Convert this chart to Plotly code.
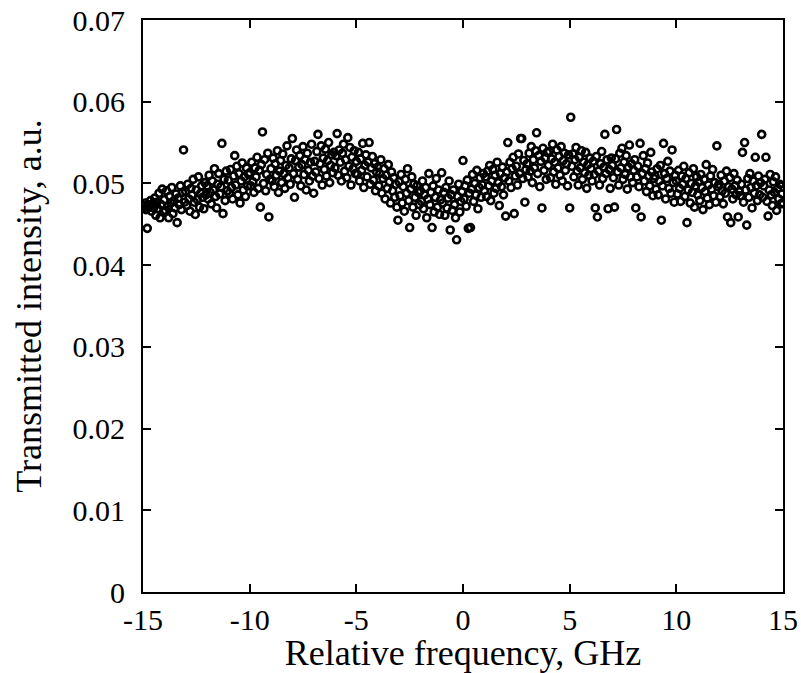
import numpy as np
import plotly.graph_objects as go

# Frequency sweep (GHz): evenly spaced scan from -15 to 15
freq_start = -15.0
freq_stop = 15.0

# Transmitted intensity, in units of 1e-4 a.u.
# (one row per 1 GHz, 20 readings per row, 0.05 GHz apart)
intensity_e4 = [
    473, 470, 476, 468, 445, 474, 471, 479, 466, 475, 470, 482, 461, 477, 469, 488, 458, 474, 493, 465,
    480, 467, 491, 472, 458, 484, 476, 495, 463, 479, 470, 487, 452, 482, 474, 497, 468, 489, 541, 477,
    490, 473, 499, 481, 466, 494, 486, 505, 477, 462, 492, 480, 508, 471, 488, 497, 483, 469, 501, 486,
    497, 481, 510, 489, 475, 503, 492, 518, 484, 470, 499, 512, 487, 496, 549, 463, 505, 479, 515, 491,
    504, 488, 517, 495, 481, 509, 534, 498, 521, 486, 512, 476, 503, 525, 492, 508, 484, 519, 497, 511,
    513, 497, 526, 502, 489, 519, 508, 532, 494, 516, 471, 523, 563, 500, 529, 491, 511, 537, 459, 505,
    518, 503, 531, 496, 524, 510, 540, 489, 515, 528, 501, 536, 512, 494, 522, 546, 507, 519, 499, 530,
    555, 512, 483, 528, 541, 505, 520, 534, 497, 523, 545, 511, 529, 492, 537, 516, 503, 526, 548, 509,
    488, 527, 514, 539, 560, 506, 524, 546, 498, 531, 517, 542, 509, 528, 550, 501, 522, 535, 513, 538,
    519, 534, 561, 510, 541, 526, 503, 537, 548, 515, 529, 507, 556, 521, 544, 498, 532, 518, 540, 512,
    527, 511, 538, 503, 530, 516, 549, 495, 522, 535, 508, 526, 550, 499, 519, 533, 504, 524, 491, 514,
    520, 497, 512, 529, 488, 506, 518, 481, 510, 494, 523, 502, 476, 514, 491, 507, 483, 499, 471, 455,
    502, 485, 511, 476, 496, 466, 505, 488, 518, 479, 446, 493, 508, 471, 499, 483, 461, 497, 489, 474,
    491, 478, 503, 469, 486, 495, 458, 481, 512, 474, 489, 446, 497, 465, 483, 506, 471, 492, 462, 480,
    513, 476, 489, 461, 495, 470, 482, 503, 443, 486, 467, 492, 474, 458, 431, 484, 499, 465, 478, 490,
    528, 481, 497, 472, 504, 445, 488, 446, 493, 511, 478, 500, 486, 516, 469, 495, 507, 483, 498, 512,
    491, 508, 484, 515, 497, 522, 479, 503, 517, 488, 510, 494, 526, 501, 473, 512, 496, 520, 486, 507,
    460, 514, 550, 503, 526, 495, 518, 532, 463, 509, 521, 498, 536, 512, 555, 555, 506, 528, 477, 517,
    524, 508, 537, 515, 545, 501, 529, 519, 540, 562, 512, 534, 496, 527, 470, 543, 516, 531, 505, 538,
    522, 539, 507, 530, 548, 514, 526, 499, 541, 519, 533, 510, 545, 503, 528, 537, 516, 524, 497, 535,
    470, 581, 521, 536, 508, 529, 544, 515, 498, 532, 519, 540, 505, 526, 513, 538, 494, 523, 510, 531,
    518, 503, 527, 511, 470, 533, 459, 515, 498, 524, 539, 506, 520, 560, 512, 529, 469, 517, 494, 531,
    522, 507, 471, 530, 566, 514, 498, 537, 519, 543, 505, 526, 511, 534, 493, 520, 547, 508, 524, 501,
    516, 529, 470, 508, 521, 496, 549, 459, 512, 534, 503, 518, 490, 525, 509, 497, 538, 514, 485, 506,
    509, 493, 518, 486, 503, 522, 455, 497, 549, 512, 481, 506, 527, 494, 515, 488, 541, 501, 477, 510,
    503, 487, 516, 494, 478, 509, 499, 521, 484, 506, 452, 492, 513, 476, 500, 489, 518, 471, 497, 508,
    486, 502, 479, 511, 495, 468, 505, 490, 523, 482, 498, 474, 509, 493, 517, 485, 501, 477, 546, 496,
    499, 484, 510, 491, 475, 503, 488, 515, 459, 496, 507, 452, 493, 481, 512, 497, 486, 504, 459, 490,
    485, 499, 538, 477, 550, 492, 449, 506, 483, 512, 495, 470, 503, 488, 532, 497, 479, 509, 486, 501,
    560, 483, 497, 505, 532, 478, 460, 492, 511, 486, 473, 502, 489, 508, 467, 494, 481, 499, 475, 487,
    476,
]

x_ticks = [-15, -10, -5, 0, 5, 10, 15]
y_ticks = [0, 0.01, 0.02, 0.03, 0.04, 0.05, 0.06, 0.07]
y_tick_labels = ["0", "0.01", "0.02", "0.03", "0.04", "0.05", "0.06", "0.07"]

freq = np.linspace(freq_start, freq_stop, len(intensity_e4))
intensity = np.array(intensity_e4) * 1e-4

font_family = "Liberation Serif, Times New Roman, serif"

fig = go.Figure()
fig.add_trace(go.Scatter(
    x=freq, y=intensity, mode="markers",
    marker=dict(symbol="circle-open", size=7, color="black",
                line=dict(color="black", width=2.6)),
    showlegend=False,
))

axis_common = dict(
    showline=True, linecolor="black", linewidth=2, mirror="ticks",
    ticks="inside", ticklen=8, tickwidth=1.5, tickcolor="black",
    showgrid=False, zeroline=False, automargin=False,
    tickfont=dict(family=font_family, size=30, color="black"),
)

fig.update_xaxes(
    range=[-15, 15], tickvals=x_ticks, ticktext=[str(t) for t in x_ticks],
    title=dict(text="Relative frequency, GHz",
               font=dict(family=font_family, size=36, color="black"), standoff=0),
    **axis_common,
)
fig.update_yaxes(
    range=[0, 0.07], tickvals=y_ticks, ticktext=y_tick_labels,
    title=dict(text="Transmitted intensity, a.u.",
               font=dict(family=font_family, size=36, color="black"), standoff=20),
    ticklabelstandoff=10,
    **axis_common,
)

fig.update_layout(
    width=801, height=673,
    margin=dict(l=143, r=18, t=20, b=81),
    paper_bgcolor="white", plot_bgcolor="white",
)

fig.write_html("out.html")
